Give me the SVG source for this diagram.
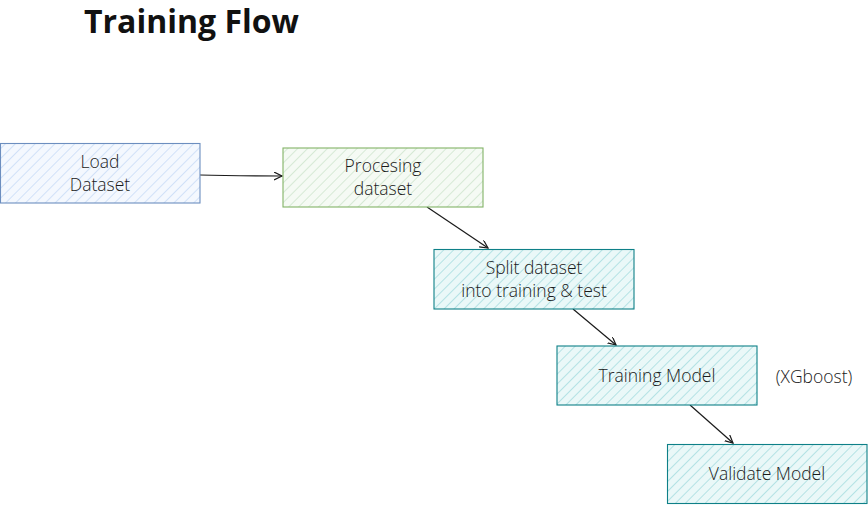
<svg xmlns="http://www.w3.org/2000/svg" width="868" height="505" viewBox="0 0 868 505">
<style>
  .lbl { font-family: "Open Sans", "Liberation Sans", sans-serif; font-size: 17.5px; fill: #1a1a1a; text-anchor: middle; font-weight: 300; }
  .title { font-family: "Open Sans", "Liberation Sans", sans-serif; font-size: 32px; font-weight: 700; fill: #111; }
  .edge { fill: none; stroke: #1a1a1a; stroke-width: 1.2; marker-end: url(#arr); }
  .box { stroke-width: 1.1; }
</style>
<defs>
  <pattern id="hBlue" width="7" height="7" patternUnits="userSpaceOnUse" patternTransform="rotate(45)">
    <rect width="7" height="7" fill="#f4f8fe"/>
    <line x1="0" y1="0" x2="0" y2="7" stroke="#c9dcf7" stroke-width="1.6"/>
  </pattern>
  <pattern id="hGreen" width="7" height="7" patternUnits="userSpaceOnUse" patternTransform="rotate(45)">
    <rect width="7" height="7" fill="#f5faf4"/>
    <line x1="0" y1="0" x2="0" y2="7" stroke="#cfe5cd" stroke-width="1.6"/>
  </pattern>
  <pattern id="hTeal" width="7" height="7" patternUnits="userSpaceOnUse" patternTransform="rotate(45)">
    <rect width="7" height="7" fill="#eaf8f8"/>
    <line x1="0" y1="0" x2="0" y2="7" stroke="#a6dde0" stroke-width="1.6"/>
  </pattern>
  <marker id="arr" markerWidth="10" markerHeight="10" refX="8" refY="4" orient="auto" markerUnits="userSpaceOnUse">
    <path d="M0,0 L8,4 L0,8" fill="none" stroke="#1a1a1a" stroke-width="1.2"/>
  </marker>
</defs>

<text class="title" x="84" y="33">Training Flow</text>

<g id="connectors">
  <path class="edge" d="M200,175 C230,176 255,176 282,176"/>
  <path class="edge" d="M427,207 L488,248"/>
  <path class="edge" d="M573,309 L616,345"/>
  <path class="edge" d="M690,405 L733,443"/>
</g>

<g id="load-dataset">
  <rect class="box" x="0.5" y="143.5" width="199.5" height="59.5" fill="url(#hBlue)" stroke="#6c8ebf"/>
  <text class="lbl" x="100" y="168">Load</text>
  <text class="lbl" x="100" y="191">Dataset</text>
</g>

<g id="processing-dataset">
  <rect class="box" x="283" y="148" width="200" height="59" fill="url(#hGreen)" stroke="#82b366"/>
  <text class="lbl" x="383" y="172">Procesing</text>
  <text class="lbl" x="383" y="195">dataset</text>
</g>

<g id="split-dataset">
  <rect class="box" x="434" y="249.5" width="200" height="59.5" fill="url(#hTeal)" stroke="#0e8088"/>
  <text class="lbl" x="534" y="274">Split dataset</text>
  <text class="lbl" x="534" y="297">into training &amp; test</text>
</g>

<g id="training-model">
  <rect class="box" x="557" y="346" width="200" height="59" fill="url(#hTeal)" stroke="#0e8088"/>
  <text class="lbl" x="657" y="382">Training Model</text>
</g>

<g id="xgboost-note">
  <text class="lbl" x="814" y="383">(XGboost)</text>
</g>

<g id="validate-model">
  <rect class="box" x="667.5" y="444.5" width="199.5" height="59" fill="url(#hTeal)" stroke="#0e8088"/>
  <text class="lbl" x="767" y="480">Validate Model</text>
</g>
</svg>
